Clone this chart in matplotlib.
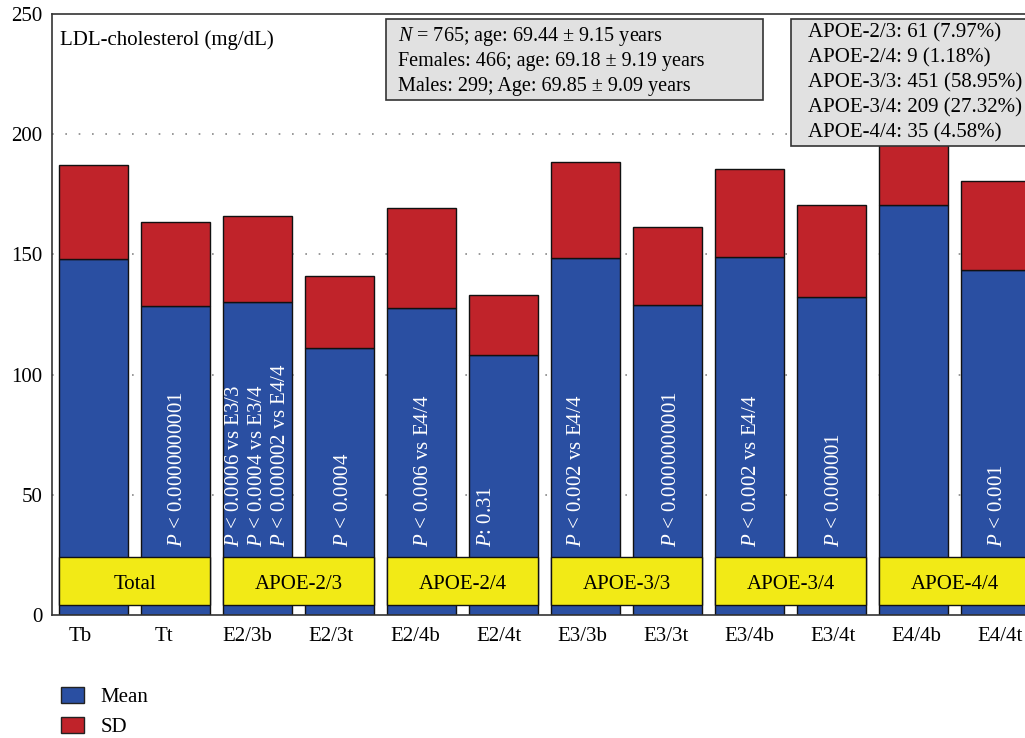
import matplotlib.pyplot as plt
from matplotlib.patches import Patch, Rectangle

plt.rcParams['font.family'] = ['Liberation Serif', 'DejaVu Serif']
plt.rcParams['mathtext.fontset'] = 'custom'
plt.rcParams['mathtext.rm'] = 'Liberation Serif'
plt.rcParams['mathtext.it'] = 'Liberation Serif:italic'

# LDL-cholesterol per group: b = baseline, t = treated
bar_labels = ["Tb", "Tt", "E2/3b", "E2/3t", "E2/4b", "E2/4t",
              "E3/3b", "E3/3t", "E3/4b", "E3/4t", "E4/4b", "E4/4t"]
ldl_mean = [148.0, 128.5, 130.3, 111.0, 127.5, 108.2,
            148.5, 129.0, 149.0, 132.3, 170.5, 143.5]
ldl_sd = [39.2, 35.1, 35.7, 30.0, 41.7, 24.8,
          39.9, 32.4, 36.5, 38.2, 40.0, 37.0]

group_labels = ["Total", "APOE-2/3", "APOE-2/4", "APOE-3/3", "APOE-3/4", "APOE-4/4"]

# p-values written upward inside each bar (empty = none)
p_texts = ["",
           "$P$ < 0.0000000001",
           ["$P$ < 0.0006 vs E3/3", "$P$ < 0.0004 vs E3/4", "$P$ < 0.000002 vs E4/4"],
           "$P$ < 0.0004",
           "$P$ < 0.006 vs E4/4",
           "$P$: 0.31",
           "$P$ < 0.002 vs E4/4",
           "$P$ < 0.0000000001",
           "$P$ < 0.002 vs E4/4",
           "$P$ < 0.000001",
           "",
           "$P$ < 0.001"]
p_shift = [0, 0.02, 0, 0.05, 0.03, -0.21, -0.11, 0.05, 0.03, 0.04, 0, 0.03]

summary_text = ["$N$ = 765; age: 69.44 ± 9.15 years",
                "Females: 466; age: 69.18 ± 9.19 years",
                "Males: 299; Age: 69.85 ± 9.09 years"]
genotype_text = ["APOE-2/3: 61 (7.97%)",
                 "APOE-2/4: 9 (1.18%)",
                 "APOE-3/3: 451 (58.95%)",
                 "APOE-3/4: 209 (27.32%)",
                 "APOE-4/4: 35 (4.58%)"]

blue = "#2a4fa2"
red = "#c0232a"
yellow = "#f2ea16"
box_gray = "#e1e1e1"
bar_w = 0.84
fs = 15

fig = plt.figure(figsize=(10.25, 7.38), dpi=100)
ax = fig.add_axes([0.0507, 0.1667, 0.9493, 0.8143])

x = list(range(len(bar_labels)))
ax.bar(x, ldl_mean, width=bar_w, color=blue, edgecolor="#111111", linewidth=1, zorder=2)
ax.bar(x, ldl_sd, bottom=ldl_mean, width=bar_w, color=red, edgecolor="#111111", linewidth=1, zorder=2)

# group boxes across each b/t pair
for g, name in enumerate(group_labels):
    cx = 2 * g + 0.5
    ax.bar(cx, 19.9, bottom=4.2, width=1 + bar_w, color=yellow,
           edgecolor="#111111", linewidth=1, zorder=3)
    ax.text(cx, 12.6, name, ha="center", va="center", fontsize=fs, zorder=4)

for i, txt in enumerate(p_texts):
    if not txt:
        continue
    lines = txt if isinstance(txt, list) else [txt]
    n = len(lines)
    for k, line in enumerate(lines):
        xx = i + p_shift[i] + (k - (n - 1) / 2) * 0.285
        ax.text(xx, 28.3, line, rotation=90, ha="center", va="bottom",
                color="white", fontsize=fs, zorder=4)

ax.set_xlim(-0.506, 11.36)
ax.set_ylim(0, 250)
ax.set_yticks([0, 50, 100, 150, 200, 250])
# tick labels sit on a slightly wider pitch than the bars
ax.set_xticks([i * 1.02 - 0.16 for i in x])
ax.set_xticklabels(bar_labels)
ax.tick_params(axis="both", length=0, labelsize=fs)
ax.tick_params(axis="y", pad=7)
ax.tick_params(axis="x", pad=9)
ax.spines["right"].set_visible(False)
for s in ["left", "bottom", "top"]:
    ax.spines[s].set_color("#333333")
    ax.spines[s].set_linewidth(1.2)

for yv in [50, 100, 150, 200]:
    ax.axhline(yv, color="#888888", linestyle=(0, (1, 7)), linewidth=1.2, zorder=1)

ax.text(0.008, 0.973, "LDL-cholesterol (mg/dL)", transform=ax.transAxes,
        ha="left", va="top", fontsize=fs, zorder=5)

# info boxes
ax.add_patch(Rectangle((0.343, 0.857), 0.388, 0.135, transform=ax.transAxes,
                       facecolor=box_gray, edgecolor="#333333", linewidth=1.2,
                       zorder=6, clip_on=False))
for k, line in enumerate(summary_text):
    ax.text(0.356, 0.962 - k * 0.041, line, transform=ax.transAxes,
            ha="left", va="center", fontsize=14.5, zorder=7)

ax.add_patch(Rectangle((0.760, 0.780), 0.3, 0.212, transform=ax.transAxes,
                       facecolor=box_gray, edgecolor="#333333", linewidth=1.2,
                       zorder=6, clip_on=False))
for k, line in enumerate(genotype_text):
    ax.text(0.777, 0.968 - k * 0.0415, line, transform=ax.transAxes,
            ha="left", va="center", fontsize=fs, zorder=7)

handles = [Patch(facecolor=blue, edgecolor="#222222", label="Mean"),
           Patch(facecolor=red, edgecolor="#222222", label="SD")]
fig.legend(handles=handles, loc="lower left", bbox_to_anchor=(0.041, -0.024),
           frameon=False, fontsize=fs, handlelength=1.1, handleheight=0.8,
           handletextpad=0.8, labelspacing=0.45)

fig.savefig("out.png", dpi=100)
